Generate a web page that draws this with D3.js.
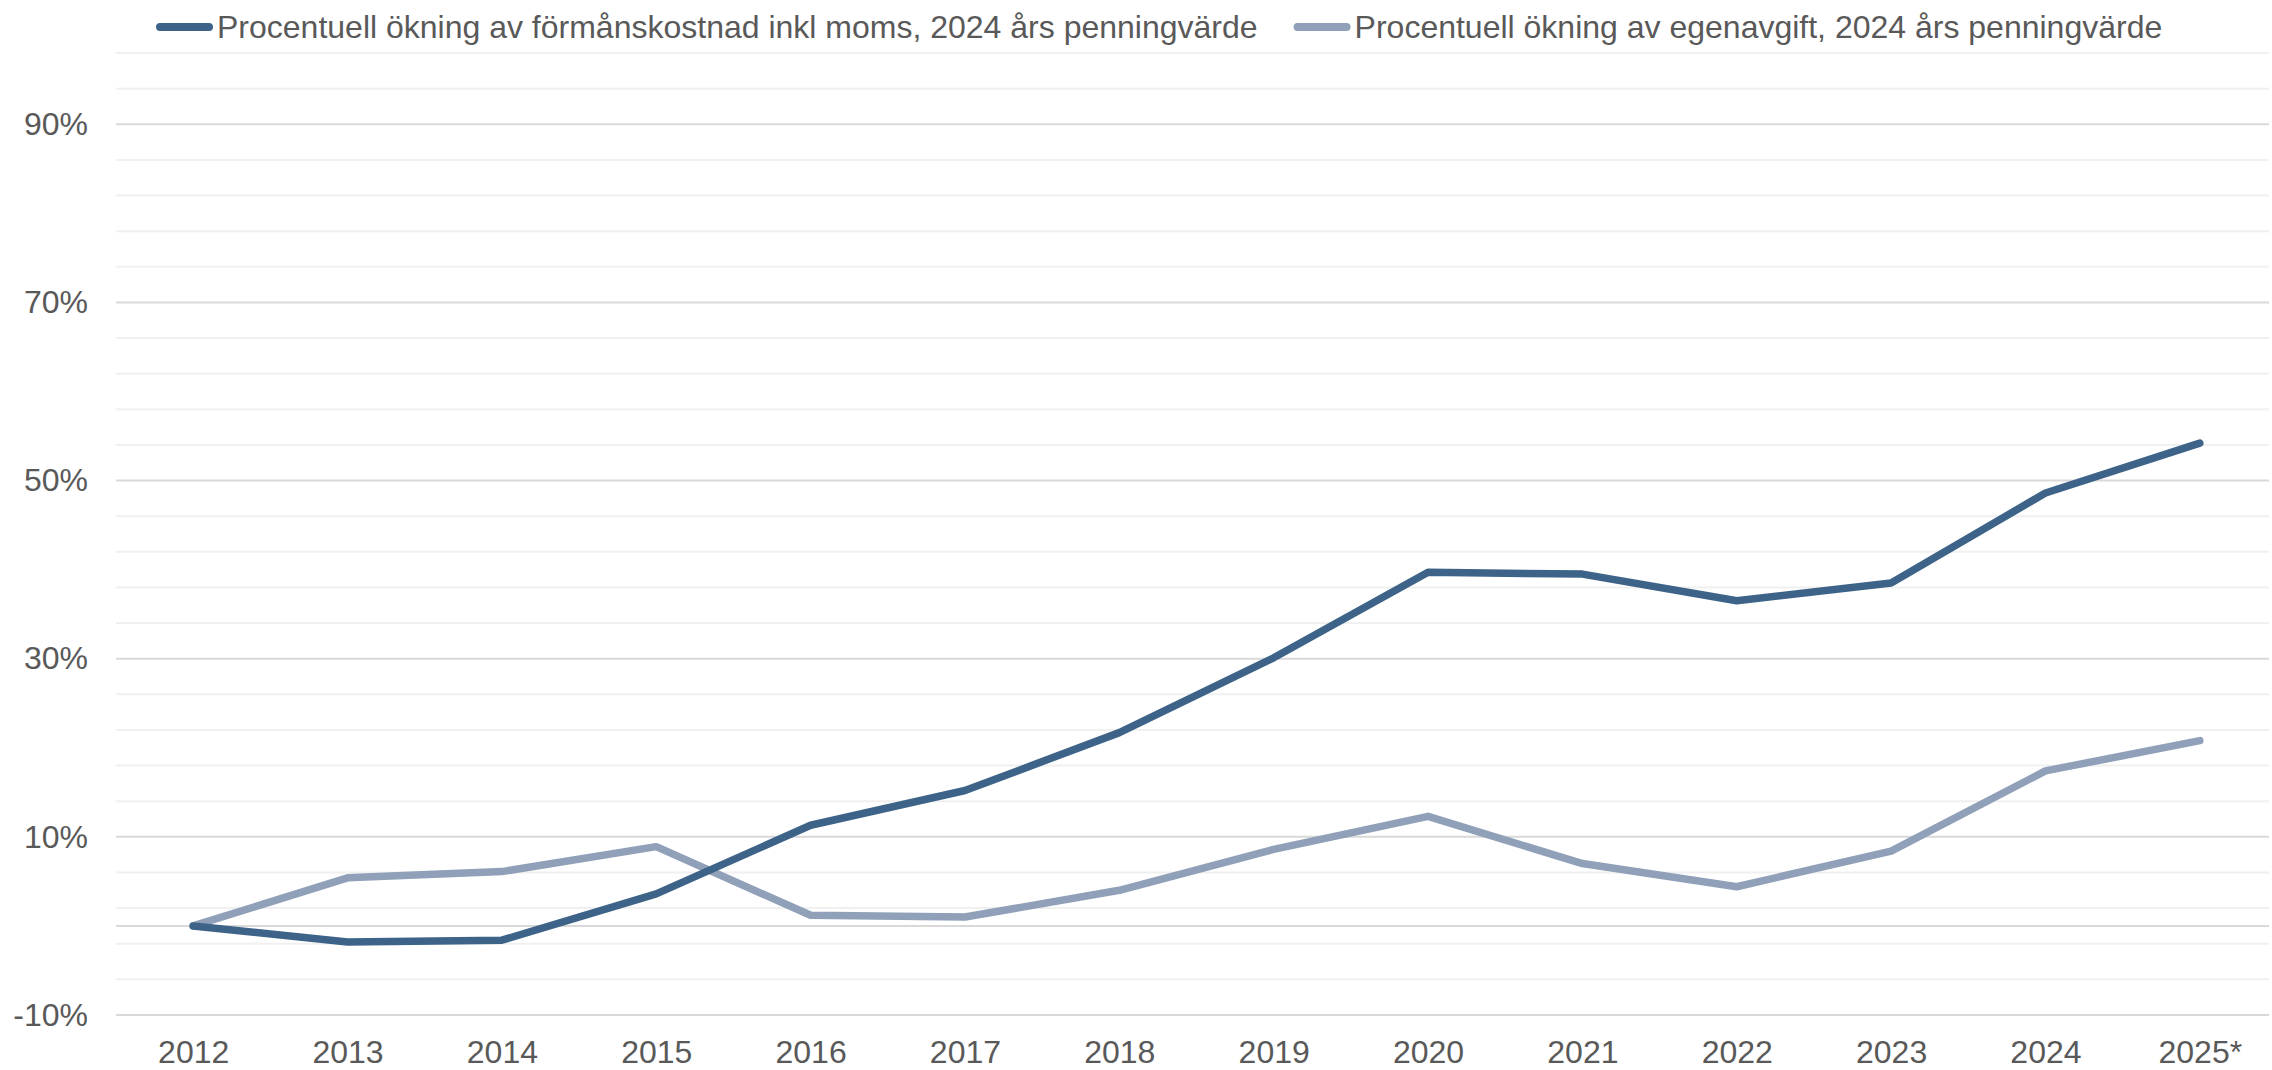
<!DOCTYPE html>
<html>
<head>
<meta charset="utf-8">
<script src="https://cdn.jsdelivr.net/npm/d3@7"></script>
<style>
  body { margin: 0; background: #fff; }
  text { font-family: Arial, "Liberation Sans", sans-serif; fill: #595959; }
</style>
</head>
<body>
<svg id="chart"></svg>
<script>
var years = ["2012", "2013", "2014", "2015", "2016", "2017", "2018", "2019", "2020", "2021", "2022", "2023", "2024", "2025*"];
var formansKostnad = [0, -1.8, -1.6, 3.6, 11.3, 15.2, 21.7, 30.1, 39.7, 39.5, 36.5, 38.5, 48.6, 54.2];
var egenavgift = [0, 5.4, 6.1, 8.9, 1.2, 1.0, 4.0, 8.6, 12.3, 7.0, 4.4, 8.4, 17.4, 20.8];
var seriesNames = ["Procentuell ökning av förmånskostnad inkl moms, 2024 års penningvärde",
                   "Procentuell ökning av egenavgift, 2024 års penningvärde"];
var seriesColors = ["#3e6388", "#8fa0b8"];
var yTickValues = [-10, 10, 30, 50, 70, 90];

var W = 2272, H = 1070;
var margin = { top: 53, right: 3, bottom: 55, left: 116 },
    width = W - margin.left - margin.right,
    height = H - margin.top - margin.bottom;

var svg = d3.select("#chart")
    .attr("width", W)
    .attr("height", H)
    .append("g")
    .attr("transform", "translate(" + margin.left + "," + margin.top + ")");

// category bands run a little past the right edge of the picture
var x = d3.scalePoint()
    .domain(years)
    .range([0, 2161])
    .padding(0.5);

var y = d3.scaleLinear()
    .domain([-10, 98])
    .range([height, 0]);

// minor grid every 4%, major every 20%
var minor = d3.range(-10, 99, 4).filter(function(v) { return yTickValues.indexOf(v) < 0; });

svg.append("g").selectAll("line")
    .data(minor)
    .enter().append("line")
    .attr("x1", 0).attr("x2", width)
    .attr("y1", function(d) { return y(d); })
    .attr("y2", function(d) { return y(d); })
    .attr("stroke", "#f0f0f0")
    .attr("stroke-width", 2);

svg.append("g").selectAll("line")
    .data(yTickValues.concat([0]))
    .enter().append("line")
    .attr("x1", 0).attr("x2", width)
    .attr("y1", function(d) { return y(d); })
    .attr("y2", function(d) { return y(d); })
    .attr("stroke", "#d9d9d9")
    .attr("stroke-width", 2);

// y axis labels
var yAxis = d3.axisLeft(y)
    .tickValues(yTickValues)
    .tickSize(0)
    .tickPadding(28)
    .tickFormat(function(d) { return d + "%"; });

svg.append("g")
    .call(yAxis)
    .call(function(g) { g.select(".domain").remove(); })
    .selectAll("text")
    .style("font-size", "32px")
    .attr("fill", "#595959");

// x axis labels
var xAxis = d3.axisBottom(x)
    .tickSize(0)
    .tickPadding(25);

svg.append("g")
    .attr("transform", "translate(0," + height + ")")
    .call(xAxis)
    .call(function(g) { g.select(".domain").remove(); })
    .selectAll("text")
    .style("font-size", "32px")
    .attr("fill", "#595959");

var line = d3.line()
    .x(function(d, i) { return x(years[i]); })
    .y(function(d) { return y(d); });

// light series first so the dark one sits on top where they cross
[egenavgift, formansKostnad].forEach(function(vals, k) {
    svg.append("path")
        .datum(vals)
        .attr("d", line)
        .attr("fill", "none")
        .attr("stroke", seriesColors[1 - k])
        .attr("stroke-width", 7.5)
        .attr("stroke-linecap", "round")
        .attr("stroke-linejoin", "round");
});

// legend
var legend = d3.select("#chart").append("g");
var lx = 156;
seriesNames.forEach(function(name, i) {
    legend.append("line")
        .attr("x1", lx + 4).attr("x2", lx + 53)
        .attr("y1", 27).attr("y2", 27)
        .attr("stroke", seriesColors[i])
        .attr("stroke-width", 8)
        .attr("stroke-linecap", "round");
    var t = legend.append("text")
        .attr("x", lx + 61)
        .attr("y", 38)
        .style("font-size", "32px")
        .text(name);
    lx = lx + 61 + t.node().getComputedTextLength() + 36;
});
</script>
</body>
</html>
